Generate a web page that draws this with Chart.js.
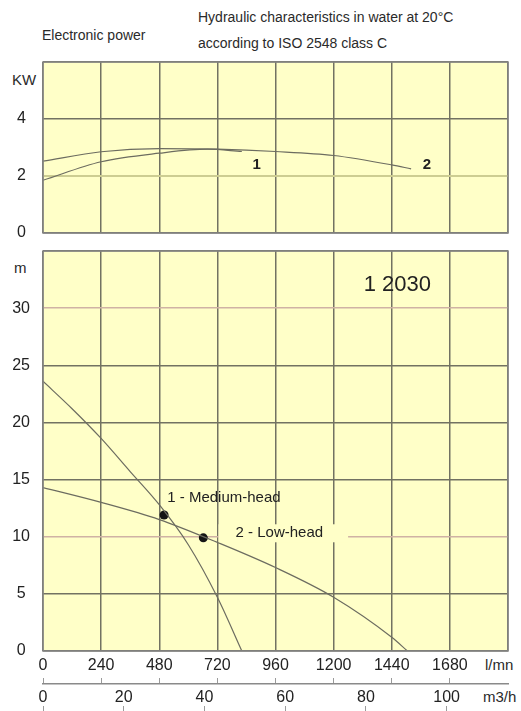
<!DOCTYPE html>
<html>
<head>
<meta charset="utf-8">
<script src="https://cdn.jsdelivr.net/npm/chart.js@4.4.1/dist/chart.umd.min.js"></script>
<style>
    body { margin: 0; background: #fff; width: 521px; height: 711px; overflow: hidden; position: relative;
           font-family: 'Liberation Sans', Arial, sans-serif; color: #2a2a2a; }
    .txt { position: absolute; white-space: nowrap; line-height: 16px; }
    #powerBox { position: absolute; left: 0; top: 50px; width: 521px; height: 190px; }
    #headBox { position: absolute; left: 0; top: 240px; width: 521px; height: 471px; }
</style>
</head>
<body>
<div class="txt" style="left:42px;top:27px;font-size:14px">Electronic power</div>
<div class="txt" style="left:198px;top:9px;font-size:14px">Hydraulic characteristics in water at 20°C</div>
<div class="txt" style="left:198px;top:35px;font-size:14px">according to ISO 2548 class C</div>
<div class="txt" style="left:12px;top:72px;font-size:15px">KW</div>
<div class="txt" style="left:14px;top:260px;font-size:15px">m</div>
<div class="txt" style="left:485px;top:657px;font-size:15px">l/mn</div>
<div class="txt" style="left:483px;top:689px;font-size:15px">m3/h</div>

<div id="powerBox"><canvas id="powerChart"></canvas></div>
<div id="headBox"><canvas id="headChart"></canvas></div>

<script>
// flow axis (l/mn) and its m3/h twin
const flowTicks = [0, 240, 480, 720, 960, 1200, 1440, 1680, 1920];
const m3hTicks = [0, 20, 40, 60, 80, 100];
const kwTicks = [0, 2, 4, 6];
const headTicks = [0, 5, 10, 15, 20, 25, 30, 35];

// electronic power, kW
const power1Flow = [0, 240, 480, 680, 821];
const power1Kw = [1.85, 2.5, 2.8, 2.94, 2.86];
const power2Flow = [0, 240, 480, 720, 960, 1200, 1440, 1520];
const power2Kw = [2.52, 2.85, 2.96, 2.94, 2.86, 2.72, 2.39, 2.25];

// head, m
const mediumFlow = [0, 120, 240, 360, 480, 600, 720, 821];
const mediumHead = [23.6, 21.2, 18.6, 15.7, 12.8, 9.3, 4.7, 0];
const lowFlow = [0, 240, 480, 720, 960, 1200, 1440, 1505];
const lowHead = [14.3, 13.0, 11.5, 9.5, 7.3, 4.7, 1.2, 0];

// duty points
const dutyFlow = [500, 662];
const dutyHead = [11.9, 9.9];

const PAPER = '#ffffc8';
const GRID = '#727262';
const PINK = '#cfb2a4';
const KHAKI = '#cdcd92';
const FRAME = '#858585';
const CURVE = '#6c6c60';
const INK = '#222';
const FONT = "'Liberation Sans', Arial, sans-serif";

Chart.defaults.font.family = FONT;
Chart.defaults.color = INK;

const pts = (xs, ys) => xs.map((x, i) => ({ x: x, y: ys[i] }));
const setTicks = (list) => (s) => { s.ticks = list.map(v => ({ value: v })); };
// fixed axis width, and no extra top/bottom room for the tick labels
const fixY = (s) => { s.width = 43; s.paddingTop = 0; s.paddingBottom = 0; };

// yellow paper, text labels and the frame
const panel = {
    id: 'panel',
    beforeDraw(chart) {
        const { ctx, chartArea: a } = chart;
        ctx.save();
        ctx.fillStyle = PAPER;
        ctx.fillRect(a.left, a.top, a.width, a.height);
        ctx.restore();
    },
    afterDatasetsDraw(chart, args, opts) {
        const { ctx, chartArea: a, scales } = chart;
        ctx.save();
        (opts.labels || []).forEach(l => {
            const x = scales.x.getPixelForValue(l.x);
            const y = scales.y.getPixelForValue(l.y);
            ctx.font = l.font;
            if (l.box) {
                const w = ctx.measureText(l.text).width;
                ctx.fillStyle = PAPER;
                ctx.fillRect(x - l.box[0], y - 9, w + l.box[0] + l.box[1], 18);
            }
            ctx.fillStyle = INK;
            ctx.textBaseline = 'middle';
            ctx.textAlign = 'left';
            ctx.fillText(l.text, x, y);
        });
        ctx.strokeStyle = FRAME;
        ctx.lineWidth = 1.5;
        ctx.strokeRect(a.left, a.top, a.width, a.height);
        ctx.restore();
    }
};

const curve = (data) => ({
    data: data,
    borderColor: CURVE,
    borderWidth: 1.2,
    pointRadius: 0,
    cubicInterpolationMode: 'monotone',
    fill: false
});

new Chart(document.getElementById('powerChart'), {
    type: 'line',
    data: {
        datasets: [curve(pts(power1Flow, power1Kw)), curve(pts(power2Flow, power2Kw))]
    },
    options: {
        responsive: true,
        maintainAspectRatio: false,
        animation: false,
        layout: { padding: { top: 12, right: 13, bottom: 7, left: 0 } },
        plugins: {
            legend: { display: false },
            tooltip: { enabled: false },
            panel: {
                labels: [
                    { text: '1', x: 865, y: 2.38, font: 'bold 15px ' + FONT },
                    { text: '2', x: 1568, y: 2.38, font: 'bold 15px ' + FONT }
                ]
            }
        },
        scales: {
            x: {
                type: 'linear', min: 0, max: 1920,
                afterBuildTicks: setTicks(flowTicks),
                ticks: { display: false },
                grid: { color: GRID, lineWidth: 1.5, drawTicks: false },
                border: { display: false },
                afterFit: s => { s.height = 0; }
            },
            y: {
                min: 0, max: 6,
                afterBuildTicks: setTicks(kwTicks),
                ticks: { callback: v => v === 6 ? '' : v, font: { size: 16 }, padding: 17, crossAlign: 'center' },
                grid: { color: c => c.tick && c.tick.value === 2 ? KHAKI : GRID, lineWidth: c => c.tick && c.tick.value === 2 ? 2 : 1.5, drawTicks: false },
                border: { display: false },
                afterFit: fixY
            }
        }
    },
    plugins: [panel]
});

new Chart(document.getElementById('headChart'), {
    type: 'line',
    data: {
        datasets: [
            curve(pts(mediumFlow, mediumHead)),
            curve(pts(lowFlow, lowHead)),
            {
                data: pts(dutyFlow, dutyHead),
                showLine: false,
                pointRadius: 4.5,
                pointBackgroundColor: '#151515',
                pointBorderWidth: 0
            }
        ]
    },
    options: {
        responsive: true,
        maintainAspectRatio: false,
        animation: false,
        layout: { padding: { top: 11, right: 13, bottom: 0, left: 0 } },
        plugins: {
            legend: { display: false },
            tooltip: { enabled: false },
            panel: {
                labels: [
                    { text: '1 2030', x: 1324, y: 32.05, font: '22px ' + FONT },
                    { text: '1 - Medium-head', x: 513, y: 13.4, font: '15px ' + FONT },
                    { text: '2 - Low-head', x: 795, y: 10.3, font: '15px ' + FONT, box: [17, 25] }
                ]
            }
        },
        scales: {
            x: {
                type: 'linear', min: 0, max: 1920, position: 'bottom', weight: 0,
                afterBuildTicks: setTicks(flowTicks),
                ticks: { callback: v => v === 1920 ? '' : v, font: { size: 16 }, padding: 5, maxRotation: 0 },
                grid: { color: GRID, lineWidth: 1.5, drawTicks: false },
                border: { display: false },
                afterFit: s => { s.height = 27; }
            },
            x2: {
                type: 'linear', min: 0, max: 1920, position: 'bottom', weight: 1,
                afterBuildTicks: setTicks(flowTicks.slice(0, -1)),
                ticks: { display: false },
                grid: { drawOnChartArea: false, drawTicks: true, tickLength: 6, color: '#9a9a9a', lineWidth: 1 },
                border: { display: false },
                afterFit: s => { s.height = 6; }
            },
            x3: {
                type: 'linear', min: 0, max: 115.2, position: 'bottom', weight: 2,
                afterBuildTicks: setTicks(m3hTicks),
                ticks: { font: { size: 16 }, padding: 4, maxRotation: 0 },
                grid: { drawOnChartArea: false, drawTicks: false },
                border: { display: true, color: '#8a8a8a', width: 1.5 },
                afterFit: s => { s.height = 22; }
            },
            x4: {
                type: 'linear', min: 0, max: 115.2, position: 'bottom', weight: 3,
                afterBuildTicks: setTicks(m3hTicks),
                ticks: { display: false },
                grid: { drawOnChartArea: false, drawTicks: true, tickLength: 5, color: '#9a9a9a', lineWidth: 1 },
                border: { display: false },
                afterFit: s => { s.height = 5; }
            },
            y: {
                min: 0, max: 35,
                afterBuildTicks: setTicks(headTicks),
                ticks: { callback: v => v === 35 ? '' : v, font: { size: 16 }, padding: 13, crossAlign: 'center' },
                grid: { color: c => c.tick && (c.tick.value === 10 || c.tick.value === 30) ? PINK : GRID, lineWidth: 1.5, drawTicks: false },
                border: { display: false },
                afterFit: fixY
            }
        }
    },
    plugins: [panel]
});
</script>
</body>
</html>
